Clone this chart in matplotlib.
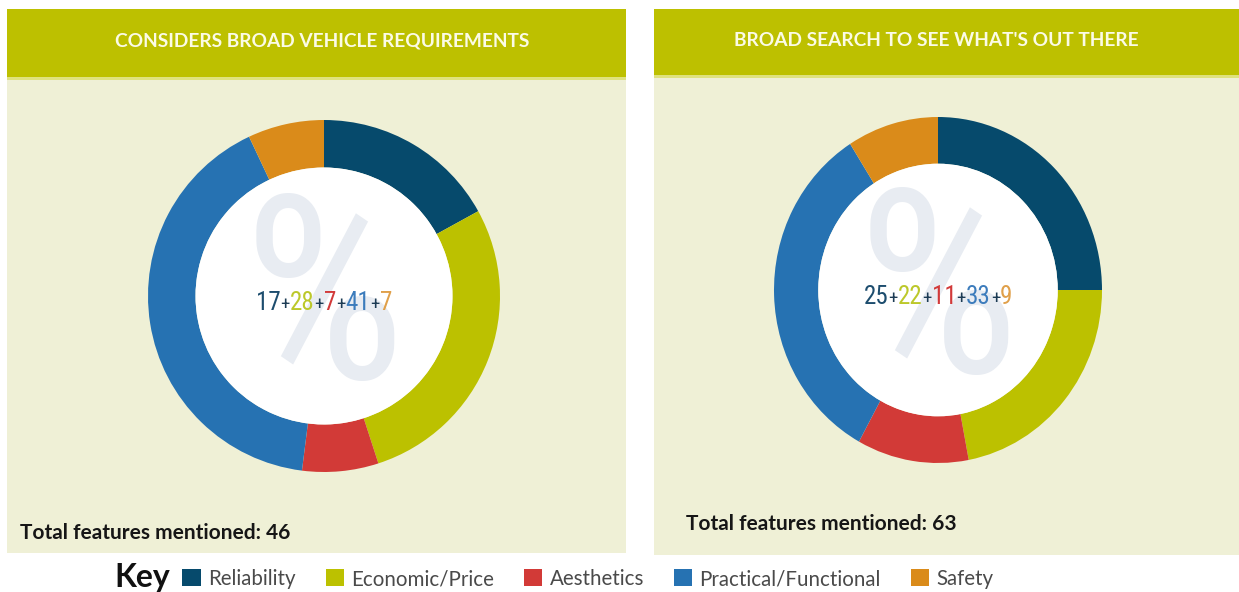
import matplotlib
matplotlib.use('Agg')
import matplotlib.pyplot as plt
from matplotlib.patches import Rectangle, Circle, Patch
from matplotlib.offsetbox import TextArea, HPacker, AnnotationBbox
from matplotlib import font_manager

# data
categories = ['Reliability', 'Economic/Price', 'Aesthetics', 'Practical/Functional', 'Safety']
titles = ['CONSIDERS BROAD VEHICLE REQUIREMENTS', "BROAD SEARCH TO SEE WHAT'S OUT THERE"]
shares_left = [17, 28, 7, 41, 7]
shares_right = [25, 22, 11, 33, 9]
totals = [46, 63]

colors = ['#064a6c', '#bcc100', '#d23a37', '#2672b2', '#da8b1a']
num_colors = ['#1d4d6e', '#bcc82a', '#d23a3a', '#3c7cbc', '#e0a04a']
header_green = '#bdc000'
body_beige = '#eff0d6'

avail = {f.name for f in font_manager.fontManager.ttflist}
narrow = next((n for n in ['Liberation Sans Narrow', 'Roboto Condensed', 'Open Sans Condensed']
               if n in avail), 'DejaVu Sans')
main_font = 'Lato' if 'Lato' in avail else 'DejaVu Sans'

W, H = 1239, 592
fig = plt.figure(figsize=(W / 100, H / 100), dpi=100)
fig.patch.set_facecolor('white')
bg = fig.add_axes([0, 0, 1, 1])
bg.set_xlim(0, W)
bg.set_ylim(H, 0)
bg.axis('off')

# panel geometry in pixels
panels = [
    dict(x0=7, x1=626, top=9, hb=79, bottom=553, cx=324, cy=296, rx=176, ry=176,
         tx=20, ty=533, shares=shares_left),
    dict(x0=654, x1=1239, top=9, hb=77, bottom=555, cx=938, cy=290, rx=164, ry=173,
         tx=686, ty=524, shares=shares_right),
]

for p, title, total in zip(panels, titles, totals):
    bg.add_patch(Rectangle((p['x0'], p['hb']), p['x1'] - p['x0'], p['bottom'] - p['hb'],
                           facecolor=body_beige, edgecolor='none'))
    bg.add_patch(Rectangle((p['x0'], p['top']), p['x1'] - p['x0'], p['hb'] - p['top'],
                           facecolor=header_green, edgecolor='none'))
    bg.add_patch(Rectangle((p['x0'], p['hb'] - 2), p['x1'] - p['x0'], 3,
                           facecolor='#dfe27e', edgecolor='none'))
    bg.text(p['cx'] - 2, (p['top'] + p['hb']) / 2 - 3, title, ha='center', va='center',
            color='#fbfbe6', fontsize=13.8, fontweight='bold', family=main_font)
    bg.text(p['tx'], p['ty'], f'Total features mentioned: {total}', ha='left', va='center',
            color='#161616', fontsize=15, fontweight='bold', family=main_font)

    ax = fig.add_axes([(p['cx'] - p['rx']) / W, (H - p['cy'] - p['ry']) / H,
                       2 * p['rx'] / W, 2 * p['ry'] / H])
    ax.pie(p['shares'], colors=colors, startangle=90, counterclock=False, radius=1,
           wedgeprops=dict(width=0.27, linewidth=0))
    ax.set_xlim(-1, 1)
    ax.set_ylim(-1, 1)
    ax.set_aspect('auto')
    ax.axis('off')
    ax.add_patch(Circle((0, 0), 0.73, facecolor='white', edgecolor='none', zorder=2))
    ax.text(0, -0.07, '%', ha='center', va='center', fontsize=185, color='#e8ecf2',
            family=narrow, zorder=3)

    parts = []
    for i, v in enumerate(p['shares']):
        if i > 0:
            parts.append(TextArea('+', textprops=dict(color='#1d3c55', fontsize=13.5,
                                                      family=narrow)))
        parts.append(TextArea(str(v), textprops=dict(color=num_colors[i], fontsize=18,
                                                     family=narrow)))
    box = HPacker(children=parts, sep=0, pad=0, align='baseline')
    ab = AnnotationBbox(box, (0, -0.04), frameon=False, box_alignment=(0.5, 0.5),
                        zorder=5)
    ax.add_artist(ab)

# key
bg.text(114, 578, 'Key', ha='left', va='center', fontsize=23, fontweight='bold',
        color='#111111', family=main_font)
handles = [Patch(facecolor=c, edgecolor='none', label=l) for c, l in zip(colors, categories)]
leg = fig.legend(handles=handles, loc='center', bbox_to_anchor=(588 / W, 1 - 579 / H),
                 ncol=5, frameon=False, handlelength=0.9, handleheight=0.9,
                 handletextpad=0.35, columnspacing=1.45,
                 prop={'family': main_font, 'size': 14.8})
for t in leg.get_texts():
    t.set_color('#4a4a4a')

fig.savefig('out.png', dpi=100)
